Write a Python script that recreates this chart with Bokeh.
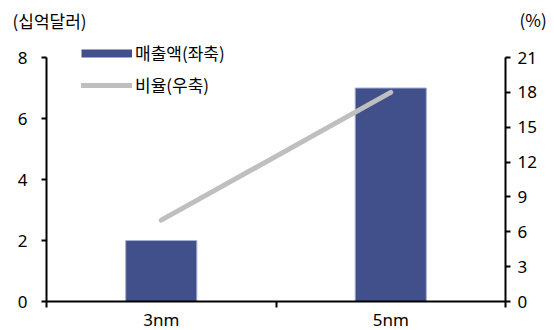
from bokeh.plotting import figure
from bokeh.models import (Range1d, LinearAxis, FixedTicker, Legend, LegendItem,
                          Label, ColumnDataSource)
from bokeh.embed import file_html
from bokeh.resources import INLINE

# ---- data ----
categories = ["3nm", "5nm"]
sales = [2, 7]            # 매출액 (십억달러), left axis
ratio = [7, 18]           # 비율 (%), right axis
left_ticks = [0, 2, 4, 6, 8]
right_ticks = [0, 3, 6, 9, 12, 15, 18, 21]
left_unit = "(십억달러)"
right_unit = "(%)"
series_names = ["매출액(좌축)", "비율(우축)"]

BAR = "#41508A"
GRAY = "#BFBFBF"
LATIN = "Noto Sans"
KR = "Noto Sans CJK KR"
FS = "17px"

W, H = 554, 330
# plot-area box inside the canvas (pixels): left, right, top, bottom
PL, PR, PT, PB = 46, 505, 57, 301

n = len(categories)
xs = [i + 0.5 for i in range(n)]
bounds = list(range(n + 1))

# ranges stretched so that the whole canvas is the frame and the axes sit
# at fixed locations
ux = (PR - PL) / n
ly = left_ticks[-1]
ry = right_ticks[-1]
uy = (PB - PT) / ly
ury = (PB - PT) / ry
x_range = Range1d(-PL / ux, n + (W - PR) / ux)
y_range = Range1d(-(H - PB) / uy, ly + PT / uy)
r_range = Range1d(-(H - PB) / ury, ry + PT / ury)

p = figure(width=W, height=H, output_backend="svg", toolbar_location=None,
           x_range=x_range, y_range=y_range, x_axis_location=None,
           y_axis_location=None, min_border=0)
p.extra_y_ranges = {"right": r_range}
p.grid.visible = False
p.outline_line_color = None


def style(ax):
    ax.axis_line_color = "black"
    ax.axis_line_width = 2
    ax.major_tick_line_color = "black"
    ax.major_tick_line_width = 2
    ax.major_tick_in = 0
    ax.major_tick_out = 5
    ax.minor_tick_in = 0
    ax.minor_tick_out = 0
    ax.major_label_text_font = LATIN
    ax.major_label_text_font_size = FS
    ax.major_label_text_color = "black"


xa = LinearAxis(ticker=FixedTicker(ticks=xs, minor_ticks=bounds),
                fixed_location=0, bounds=(0, n))
style(xa)
xa.major_label_overrides = {x: c for x, c in zip(xs, categories)}
xa.major_tick_out = 0
xa.minor_tick_out = 6
xa.minor_tick_line_color = "black"
xa.minor_tick_line_width = 2
xa.major_label_standoff = 0
p.add_layout(xa, "below")

ya = LinearAxis(ticker=FixedTicker(ticks=left_ticks), fixed_location=0,
                bounds=(0, ly))
style(ya)
ya.major_label_standoff = 14
p.add_layout(ya, "left")

ra = LinearAxis(y_range_name="right", ticker=FixedTicker(ticks=right_ticks),
                fixed_location=n, bounds=(0, ry))
style(ra)
ra.major_label_standoff = 7
p.add_layout(ra, "right")

r_bar = p.vbar(x=xs, top=sales, width=0.31, fill_color=BAR,
               line_color="#A8B0D0", line_width=1)
r_line = p.line(x=xs, y=ratio, y_range_name="right", line_color=GRAY,
                line_width=5, line_cap="round")
# legend swatch for the bar series (not drawn in the plot: NaN point)
r_swatch = p.line(x="x", y="y",
                  source=ColumnDataSource(data=dict(x=[float("nan")],
                                                    y=[float("nan")])),
                  line_color=BAR, line_width=8, line_cap="butt")

legend = Legend(items=[LegendItem(label=series_names[0], renderers=[r_swatch]),
                       LegendItem(label=series_names[1], renderers=[r_line])],
                location=(81, 233), glyph_width=51, glyph_height=20,
                label_height=20, spacing=7, padding=0, margin=0,
                label_standoff=3, border_line_color=None,
                background_fill_alpha=0, label_text_font=KR,
                label_text_font_size=FS, label_text_color="black")
p.add_layout(legend)

p.add_layout(Label(x=12, y=H - 20, x_units="screen", y_units="screen",
                   text=left_unit, text_baseline="middle", text_font=KR,
                   text_font_size=FS, text_color="black"))
p.add_layout(Label(x=519, y=H - 19, x_units="screen", y_units="screen",
                   text=right_unit, text_baseline="middle", text_font=KR,
                   text_font_size=FS, text_color="black"))

open("out.html", "w").write(file_html(p, INLINE))
